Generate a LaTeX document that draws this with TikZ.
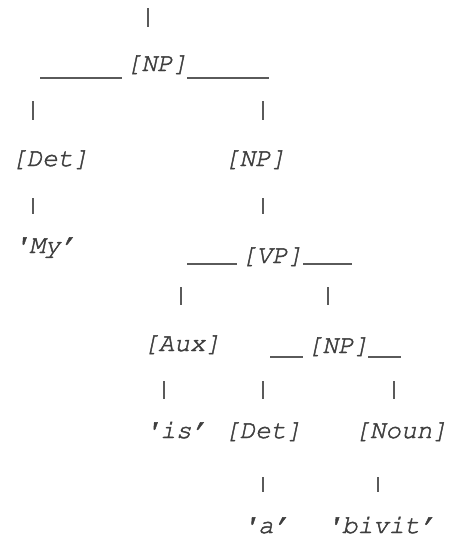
\documentclass[tikz,border=0pt]{standalone}
\usepackage[T1]{fontenc}
\definecolor{inkgray}{HTML}{3E3E3E}
\definecolor{linegray}{HTML}{5A5A5A}
% slanted Courier, filled and lightly stroked so the thin strokes read heavier
\newcommand\treefont{\fontfamily{pcr}\fontseries{m}\fontshape{sl}\fontsize{26}{30}\selectfont}
\newcommand\heavytext[1]{\special{pdf:literal direct 0.45 w 2 Tr}#1\special{pdf:literal direct 0 Tr}}
\begin{document}
\begin{tikzpicture}[x=1pt,y=-1pt,
  lbl/.style={anchor=base,inner sep=0pt,text=inkgray,font=\treefont},
  bar/.style={draw=linegray,line width=1.8pt},
  rule/.style={draw=linegray,line width=1.5pt}]
\useasboundingbox (0,0) rectangle (456,538);

% category and word labels
\node[lbl] (np1)   at (157,71)  {\heavytext{[NP]}};
\node[lbl] (det1)  at (50,166)  {\heavytext{[Det]}};
\node[lbl] (np2)   at (255,166) {\heavytext{[NP]}};
\node[lbl] (my)    at (45,253)  {\heavytext{\textquotesingle My'}};
\node[lbl] (vp)    at (272,263) {\heavytext{[VP]}};
\node[lbl] (aux)   at (182,351) {\heavytext{[Aux]}};
\node[lbl] (np3)   at (338,353) {\heavytext{[NP]}};
\node[lbl] (is)    at (176,438) {\heavytext{\textquotesingle is'}};
\node[lbl] (det2)  at (263,438) {\heavytext{[Det]}};
\node[lbl] (noun)  at (401,438) {\heavytext{[Noun]}};
\node[lbl] (a)     at (266,533) {\heavytext{\textquotesingle a'}};
\node[lbl] (bivit) at (381,533) {\heavytext{\textquotesingle bivit'}};

% ends of the vertical strokes
\coordinate (t0) at (148,8);   \coordinate (t1) at (148,27);
\coordinate (l0) at (33,101);  \coordinate (l1) at (33,120);
\coordinate (r0) at (263,101); \coordinate (r1) at (263,120);
\coordinate (m0) at (33,198);  \coordinate (m1) at (33,214);
\coordinate (n0) at (263,198); \coordinate (n1) at (263,214);
\coordinate (p0) at (181,287); \coordinate (p1) at (181,305);
\coordinate (q0) at (328,287); \coordinate (q1) at (328,305);
\coordinate (s0) at (164,381); \coordinate (s1) at (164,399);
\coordinate (u0) at (263,381); \coordinate (u1) at (263,399);
\coordinate (v0) at (394,381); \coordinate (v1) at (394,399);
\coordinate (w0) at (263,477); \coordinate (w1) at (263,492);
\coordinate (z0) at (378,477); \coordinate (z1) at (378,492);

\foreach \k in {t,l,r,m,n,p,q,s,u,v,w,z}
  \draw[bar] (\k0) -- (\k1);

% horizontal rules on both sides of the phrase labels
\coordinate (h1a) at (40,78);   \coordinate (h1b) at (122,78);
\coordinate (h2a) at (187,78);  \coordinate (h2b) at (269,78);
\coordinate (h3a) at (187,264); \coordinate (h3b) at (237,264);
\coordinate (h4a) at (303,264); \coordinate (h4b) at (352,264);
\coordinate (h5a) at (270,357); \coordinate (h5b) at (303,357);
\coordinate (h6a) at (368,357); \coordinate (h6b) at (401,357);

\foreach \k in {h1,h2,h3,h4,h5,h6}
  \draw[rule] (\k a) -- (\k b);
\end{tikzpicture}
\end{document}
